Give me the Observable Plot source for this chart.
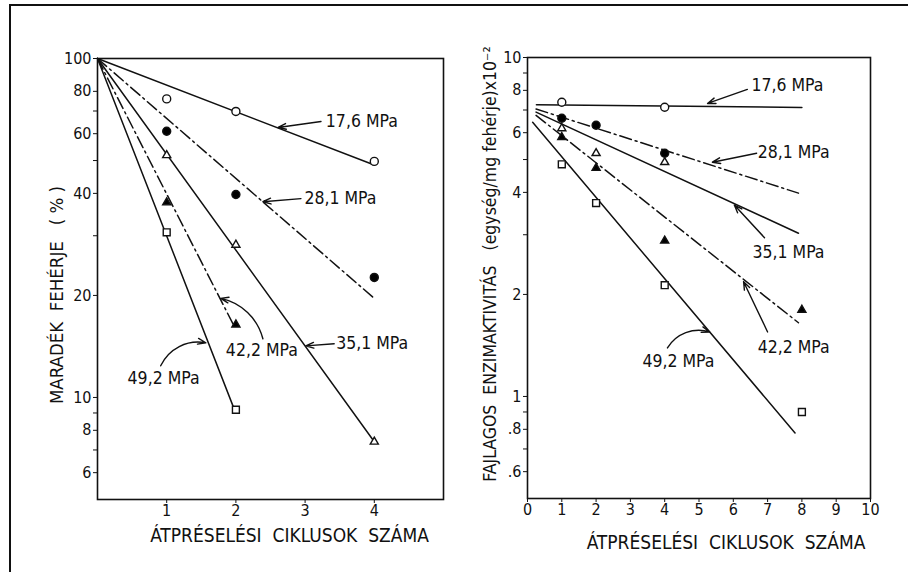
<!DOCTYPE html>
<html><head><meta charset="utf-8">
<script src="https://cdn.jsdelivr.net/npm/d3@7"></script>
<script src="https://cdn.jsdelivr.net/npm/@observablehq/plot@0.6"></script>
<style>
html,body{margin:0;padding:0;background:#fff;}
#wrap{position:relative;width:908px;height:572px;overflow:hidden;background:#fff;}
#border{position:absolute;left:9px;top:4px;width:910px;height:580px;border-left:2px solid #111;border-top:2px solid #111;}
#left{position:absolute;left:0;top:0;}
#right{position:absolute;left:454px;top:0;}
svg text{white-space:pre;}
</style></head><body>
<div id="wrap"><div id="border"></div><div id="left"></div><div id="right"></div></div>
<script>
// ---------- data ----------
const pressures = ["17,6 MPa", "28,1 MPa", "35,1 MPa", "42,2 MPa", "49,2 MPa"];

// Left panel: remaining protein (%) vs number of pressing cycles
const cyclesLeft = [1, 2, 4];
const protein176 = [76, 69.8, 49.7];
const protein281 = [61, 39.7, 22.6];
const protein351 = [51.8, 28.2, 7.4];
const protein422 = [37.6, 16.4];
const protein492 = [30.7, 9.2];
const fitLeftStartX = [0, 0, 0, 0, 0];
const fitLeftStartY = [100, 100, 100, 100, 100];
const fitLeftEndX = [4, 4, 4, 1.97, 1.97];
const fitLeftEndY = [48.5, 19.6, 7.4, 16.3, 9.3];

// Right panel: specific enzyme activity (unit/mg protein) x10^-2
const cyclesRight = [1, 2, 4, 8];
const activity176 = [7.38, null, 7.13, null];
const activity281 = [6.62, 6.31, 5.22, null];
const activity351 = [6.18, 5.22, 4.91, null];
const activity422 = [5.82, 4.72, 2.88, 1.80];
const activity492 = [4.84, 3.72, 2.13, 0.90];
const fitRightStartX = [0.26, 0.25, 0.25, 0.25, 0.15];
const fitRightStartY = [7.25, 7.05, 6.9, 6.75, 6.44];
const fitRightEndX = [8, 7.9, 7.9, 7.9, 7.8];
const fitRightEndY = [7.12, 3.98, 3.03, 1.65, 0.78];

// ticks
const leftYTicks = [6, 7, 8, 9, 10, 20, 30, 40, 50, 60, 70, 80, 100];
const leftYLabels = [6, 8, 10, 20, 40, 60, 80, 100];
const leftXTicks = [1, 2, 3, 4];
const rightYTicks = [0.6, 0.7, 0.8, 0.9, 1, 2, 3, 4, 5, 6, 7, 8, 9, 10];
const rightYLabels = [0.6, 0.8, 1, 2, 4, 6, 8, 10];
const rightXTicks = [0, 1, 2, 3, 4, 5, 6, 7, 8, 9, 10];

// annotations (label anchor, arrow tail, arrow head, bend) in data units
const notesLeftText = [[3.30, 65.2], [2.99, 38.6], [3.45, 14.4], [1.855, 13.8], [0.435, 11.4]];
const notesLeftArrow = [[3.23, 65.2, 2.61, 62.6, 0], [2.94, 38.6, 2.39, 37.8, 0], [3.42, 14.4, 3.01, 14.2, 0], [2.39, 14.9, 1.78, 19.6, -32], [0.913, 12.4, 1.565, 14.5, 38]];
const notesRightText = [[6.53, 8.27], [6.71, 5.26], [6.56, 2.67], [6.71, 1.40], [3.35, 1.27]];
const notesRightArrow = [[6.41, 8.05, 5.25, 7.32, 0], [6.68, 5.22, 5.39, 4.91, 0], [6.91, 2.94, 6.03, 3.67, 0], [7.0, 1.55, 6.30, 2.18, 0], [4.08, 1.39, 5.31, 1.55, 38]];

// ---------- styling ----------
const FONT = "'DejaVu Sans Condensed', 'Liberation Sans Narrow', 'DejaVu Sans', sans-serif";
const markerSymbol = ["circle", "circle", "triangle", "triangle", "square"];
const markerFill = ["white", "black", "white", "black", "white"];
const markerR = [4, 4, 3.0, 3.0, 3.9];
const lineDash = [null, "12,4,2,4", null, "12,4,2,4", null];
const fmtTick = d => d < 1 ? String(d).replace("0.", ".") : String(d);

function buildPanel(opt) {
  const marks = [Plot.frame({stroke: "#111", strokeWidth: 1.6})];
  // fitted lines
  pressures.forEach((p, i) => {
    const seg = [{x: opt.fitSX[i], y: opt.fitSY[i]}, {x: opt.fitEX[i], y: opt.fitEY[i]}];
    marks.push(Plot.line(seg, {x: "x", y: "y", stroke: "#111", strokeWidth: 1.5, strokeDasharray: lineDash[i]}));
  });
  // points
  pressures.forEach((p, i) => {
    const rows = opt.cycles.map((c, j) => ({x: c, y: opt.values[i][j]})).filter(d => d.y != null);
    marks.push(Plot.dot(rows, {x: "x", y: "y", symbol: markerSymbol[i], r: markerR[i], fill: markerFill[i], stroke: "#111", strokeWidth: 1.4}));
  });
  // annotations
  pressures.forEach((p, i) => {
    const a = opt.arrows[i];
    marks.push(Plot.arrow([a], {x1: d => d[0], y1: d => d[1], x2: d => d[2], y2: d => d[3], bend: a[4], stroke: "#111", strokeWidth: 1.4, headLength: 9, headAngle: 40}));
    marks.push(Plot.text([opt.texts[i]], {x: d => d[0], y: d => d[1], text: () => p, textAnchor: "start", lineAnchor: "middle", fontSize: 17.5, fill: "#111"}));
  });
  // axes: tick marks
  marks.push(Plot.axisY({ticks: opt.yTicks, tickFormat: () => "", tickSize: 4, label: null, stroke: "#111"}));
  marks.push(Plot.axisX({ticks: opt.xTicks, tickFormat: () => "", tickSize: 4, label: null, stroke: "#111"}));
  // tick labels
  marks.push(Plot.text(opt.yLabels, {y: d => d, text: fmtTick, frameAnchor: "left", textAnchor: "end", lineAnchor: "middle", dx: -6, fontSize: 16, fill: "#111"}));
  marks.push(Plot.text(opt.xTicks, {x: d => d, text: d => String(d), frameAnchor: "bottom", textAnchor: "middle", lineAnchor: "top", dy: 5, fontSize: 16, fill: "#111"}));
  // axis titles
  marks.push(Plot.text([opt.xTitle], {frameAnchor: "bottom", text: d => d, textAnchor: "middle", dx: opt.xTitleDx, dy: opt.xTitleDy, fontSize: 19, lineAnchor: "middle", fill: "#111", style: "letter-spacing:0.5px"}));
  marks.push(Plot.text([opt.yTitle], {frameAnchor: "left", text: d => d, textAnchor: "middle", rotate: -90, dx: opt.yTitleDx, dy: opt.yTitleDy, fontSize: opt.yTitleSize, lineAnchor: "middle", fill: "#111"}));
  const svg = Plot.plot({
    width: 454, height: 572,
    marginLeft: opt.ml, marginRight: opt.mr, marginTop: opt.mt, marginBottom: opt.mb,
    style: {fontFamily: FONT, color: "#111", background: "transparent", overflow: "visible"},
    x: {domain: opt.xDomain},
    y: {type: "log", domain: opt.yDomain},
    marks
  });
  return svg;
}

document.getElementById("left").append(buildPanel({
  ml: 97, mr: 11, mt: 58, mb: 73,
  xDomain: [0, 5], yDomain: [5, 100],
  cycles: cyclesLeft,
  values: [protein176, protein281, protein351, protein422, protein492],
  fitSX: fitLeftStartX, fitSY: fitLeftStartY, fitEX: fitLeftEndX, fitEY: fitLeftEndY,
  texts: notesLeftText, arrows: notesLeftArrow,
  yTicks: leftYTicks, yLabels: leftYLabels, xTicks: leftXTicks,
  xTitle: "ÁTPRÉSELÉSI  CIKLUSOK  SZÁMA", xTitleDx: 19, xTitleDy: 36,
  yTitle: "MARADÉK  FEHÉRJE   ( % )", yTitleDx: -40, yTitleDy: 16, yTitleSize: 18.5
}));

document.getElementById("right").append(buildPanel({
  ml: 73, mr: 38, mt: 57, mb: 74,
  xDomain: [0, 10], yDomain: [0.5, 10],
  cycles: cyclesRight,
  values: [activity176, activity281, activity351, activity422, activity492],
  fitSX: fitRightStartX, fitSY: fitRightStartY, fitEX: fitRightEndX, fitEY: fitRightEndY,
  texts: notesRightText, arrows: notesRightArrow,
  yTicks: rightYTicks, yLabels: rightYLabels, xTicks: rightXTicks,
  xTitle: "ÁTPRÉSELÉSI  CIKLUSOK  SZÁMA", xTitleDx: 27, xTitleDy: 44,
  yTitle: "FAJLAGOS  ENZIMAKTIVITÁS   (egység/mg fehérje)x10⁻²", yTitleDx: -37, yTitleDy: -14, yTitleSize: 17.5
}));
</script>
</body></html>
